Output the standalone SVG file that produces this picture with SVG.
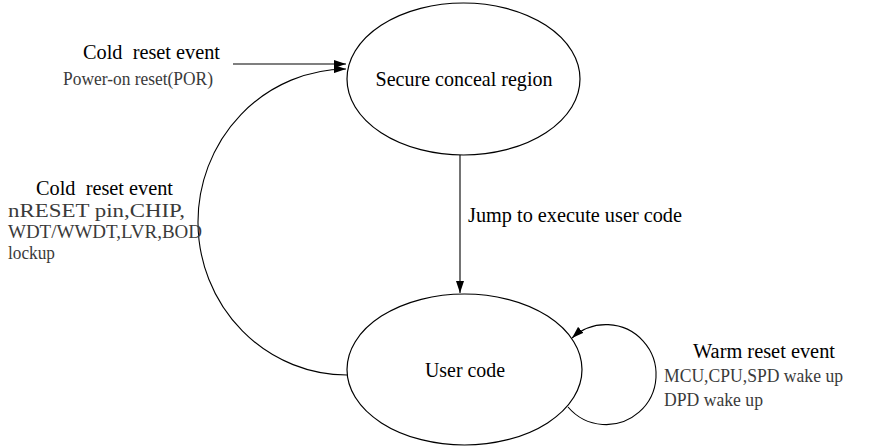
<svg xmlns="http://www.w3.org/2000/svg" width="889" height="448" viewBox="0 0 889 448">
<style>
.node{fill:#fff;stroke:#000;stroke-width:1.2}
.conn{fill:none;stroke:#000;stroke-width:1.1}
text{font-family:'Liberation Serif','Times New Roman',serif;fill:#000}
.h{font-size:20px}
.d{font-size:18px;fill:#3a3a3a}
.n{font-size:22px}
</style>
<defs>
<marker id="ah" viewBox="0 0 12 8" refX="12" refY="4" markerWidth="12" markerHeight="8" markerUnits="userSpaceOnUse" orient="auto">
<path d="M0,0 L12,4 L0,8 z" fill="#000"/>
</marker>
</defs>
<g id="connectors">
<line class="conn" x1="233" y1="64" x2="346" y2="64" marker-end="url(#ah)"/>
<path class="conn" d="M348,375 A149,153 0 0 1 346,69" marker-end="url(#ah)"/>
<line class="conn" x1="460" y1="155" x2="460" y2="293" marker-end="url(#ah)"/>
<path class="conn" d="M568,407 A50,50 0 1 0 572,338" marker-end="url(#ah)"/>
</g>
<g id="secure">
<ellipse class="node" cx="463.5" cy="79" rx="116.5" ry="76"/>
<text class="n" x="464" y="86" text-anchor="middle" textLength="177" lengthAdjust="spacingAndGlyphs">Secure conceal region</text>
</g>
<g id="user">
<ellipse class="node" cx="464.5" cy="369.5" rx="117.5" ry="75.5"/>
<text class="n" x="465" y="377" text-anchor="middle" textLength="80" lengthAdjust="spacingAndGlyphs">User code</text>
</g>
<g id="labels">
<text class="h" x="468" y="222" textLength="214" lengthAdjust="spacingAndGlyphs">Jump to execute user code</text>
<text class="h" x="83" y="59" textLength="137" lengthAdjust="spacingAndGlyphs" xml:space="preserve">Cold  reset event</text>
<text class="d" x="63" y="85" textLength="150" lengthAdjust="spacingAndGlyphs">Power-on reset(POR)</text>
<text class="h" x="36" y="195" textLength="137" lengthAdjust="spacingAndGlyphs" xml:space="preserve">Cold  reset event</text>
<text class="d" x="8" y="217" textLength="177" lengthAdjust="spacingAndGlyphs">nRESET pin,CHIP,</text>
<text class="d" x="8" y="238" textLength="194" lengthAdjust="spacingAndGlyphs">WDT/WWDT,LVR,BOD</text>
<text class="d" x="8" y="259" textLength="47" lengthAdjust="spacingAndGlyphs">lockup</text>
<text class="h" x="693" y="358" textLength="142" lengthAdjust="spacingAndGlyphs">Warm reset event</text>
<text class="d" x="664" y="382" textLength="179" lengthAdjust="spacingAndGlyphs">MCU,CPU,SPD wake up</text>
<text class="d" x="664" y="406" textLength="99" lengthAdjust="spacingAndGlyphs">DPD wake up</text>
</g>
</svg>
